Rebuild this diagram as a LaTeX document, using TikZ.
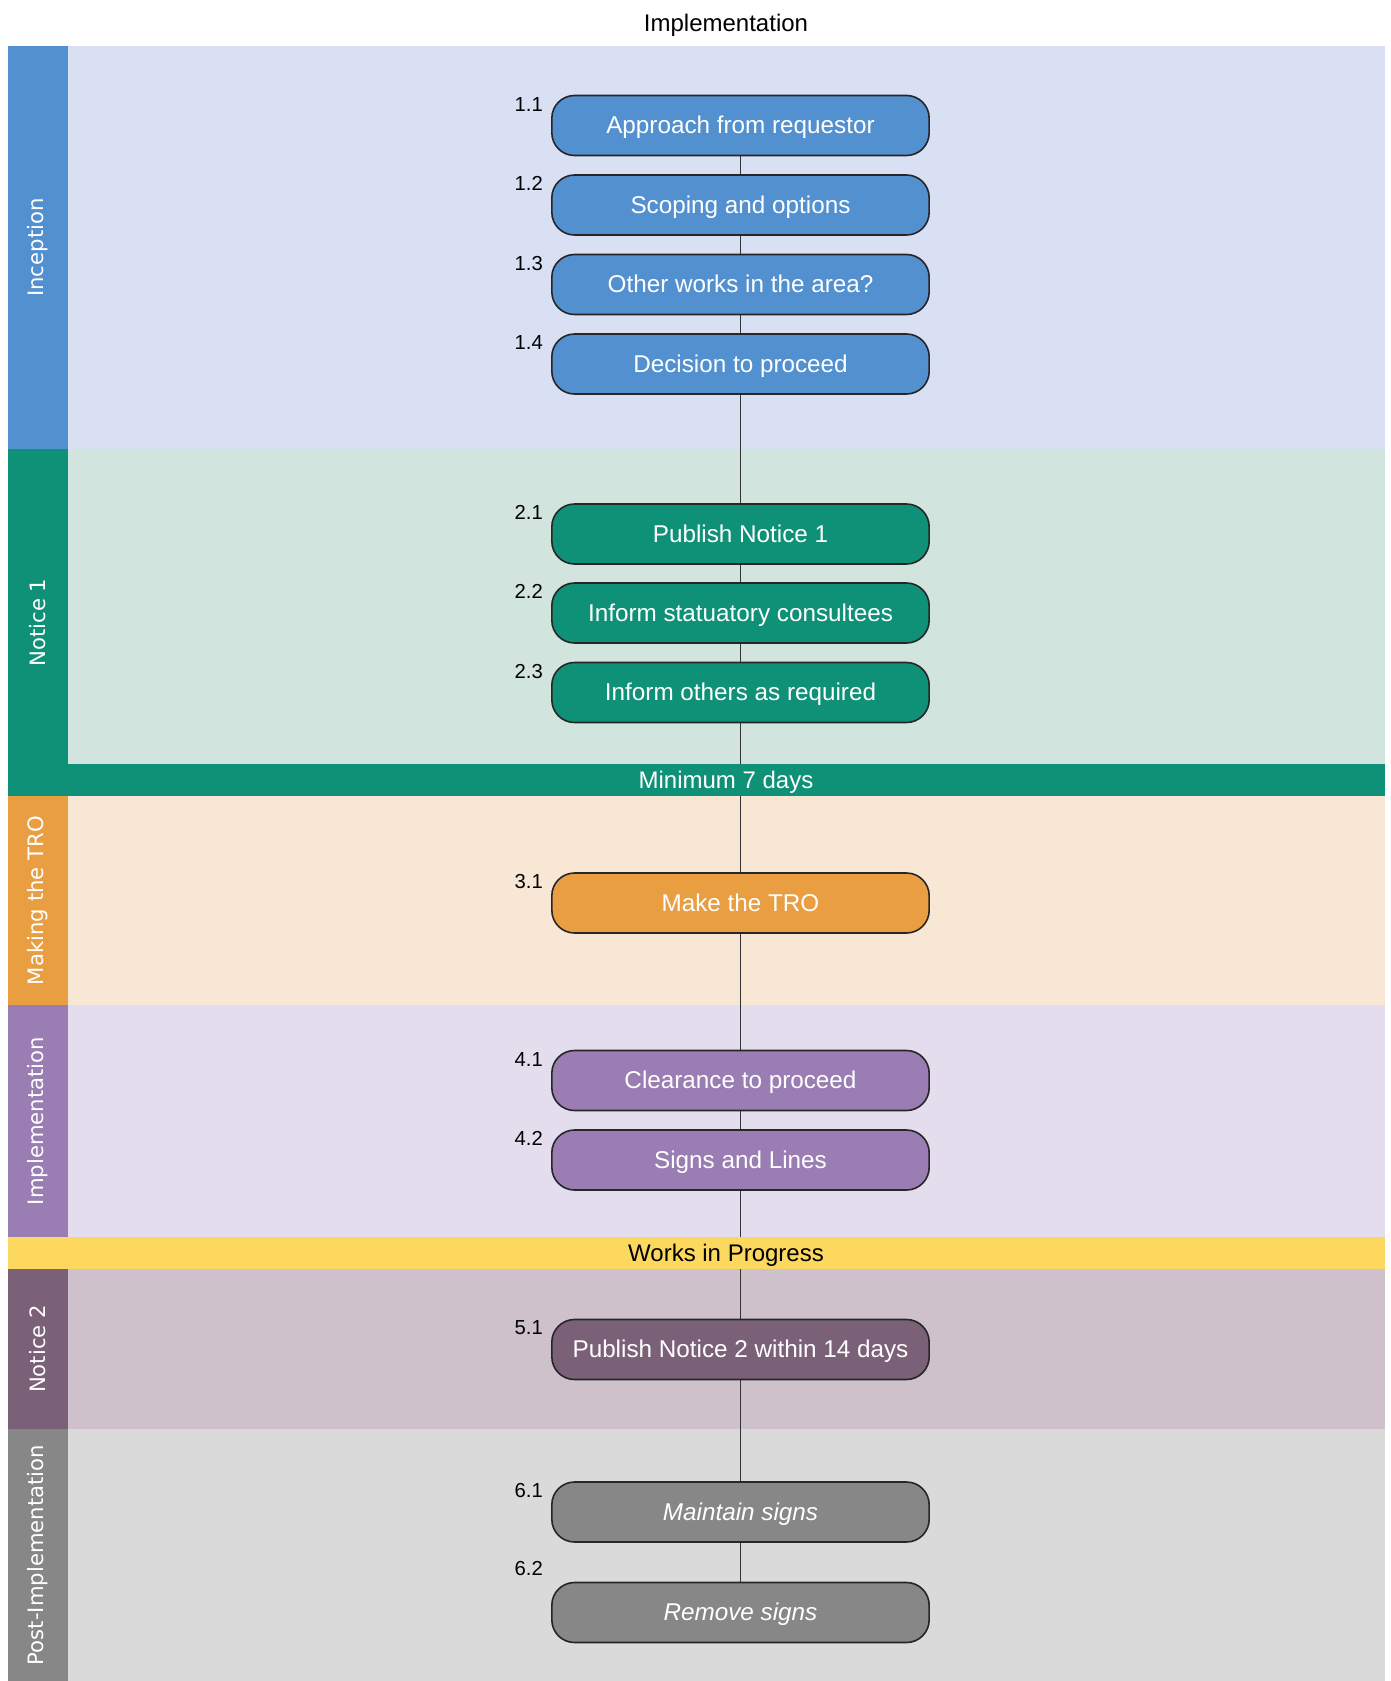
\documentclass[tikz,border=0pt]{standalone}
\usepackage{fontspec}
\setmainfont{Liberation Sans}
\newfontfamily\lanefont{DejaVu Sans}
\definecolor{incS}{RGB}{83,144,207}
\definecolor{incL}{RGB}{218,224,243}
\definecolor{noS}{RGB}{15,145,120}
\definecolor{noL}{RGB}{210,228,222}
\definecolor{trS}{RGB}{234,158,66}
\definecolor{trL}{RGB}{249,231,213}
\definecolor{imS}{RGB}{154,125,178}
\definecolor{imL}{RGB}{227,221,238}
\definecolor{wip}{RGB}{253,216,94}
\definecolor{nbS}{RGB}{123,97,120}
\definecolor{nbL}{RGB}{206,193,204}
\definecolor{poS}{RGB}{135,135,135}
\definecolor{poL}{RGB}{218,218,218}
\tikzset{
  stepbox/.style={draw=black!85, line width=1.2pt, rounded corners=17pt,
    minimum width=283pt, minimum height=45pt, inner sep=0pt, text=white,
    text height=14pt, text depth=2pt,
    font=\fontsize{18.2}{22}\selectfont},
  numlabel/.style={anchor=east, inner sep=0pt, font=\fontsize{15.2}{18}\selectfont},
  lanelabel/.style={rotate=90, text=white, font=\lanefont\fontsize{15.9}{18}\selectfont},
  barlabel/.style={inner sep=0pt, text height=14pt, text depth=2pt, font=\fontsize{18}{21}\selectfont},
  link/.style={draw=black!80, line width=1.1pt}
}
\begin{document}
\begin{tikzpicture}[x=0.75pt,y=-0.75pt]
\useasboundingbox (0,0) rectangle (1390,1681);
% lanes
\fill[incL] (67.5,46) rectangle (1385,449);
\fill[incS] (7.5,46) rectangle (67.5,449);
\fill[noL] (67.5,449) rectangle (1385,764);
\fill[noS] (7.5,449) rectangle (67.5,764);
\fill[trL] (67.5,796) rectangle (1385,1005);
\fill[trS] (7.5,796) rectangle (67.5,1005);
\fill[imL] (67.5,1005) rectangle (1385,1237);
\fill[imS] (7.5,1005) rectangle (67.5,1237);
\fill[nbL] (67.5,1269) rectangle (1385,1429);
\fill[nbS] (7.5,1269) rectangle (67.5,1429);
\fill[poL] (67.5,1429) rectangle (1385,1681);
\fill[poS] (7.5,1429) rectangle (67.5,1681);
% lane labels
\node[lanelabel] (lInc) at (37.5,247.5) {Inception};
\node[lanelabel] (lNo) at (37.5,622.5) {Notice 1};
\node[lanelabel] (lTr) at (37.5,900.5) {Making the TRO};
\node[lanelabel] (lIm) at (37.5,1121) {Implementation};
\node[lanelabel] (lNb) at (37.5,1349) {Notice 2};
\node[lanelabel] (lPo) at (37.5,1555) {Post-Implementation};
% title
\node[barlabel] (title) at (726,23.5) {Implementation};
% boxes
\node[stepbox, fill=incS] (b11) at (740.5,125.5) {Approach from requestor};
\node[stepbox, fill=incS] (b12) at (740.5,205) {Scoping and options};
\node[stepbox, fill=incS] (b13) at (740.5,284.5) {Other works in the area?};
\node[stepbox, fill=incS] (b14) at (740.5,364) {Decision to proceed};
\node[stepbox, fill=noS] (b21) at (740.5,534) {Publish Notice 1};
\node[stepbox, fill=noS] (b22) at (740.5,613) {Inform statuatory consultees};
\node[stepbox, fill=noS] (b23) at (740.5,692.5) {Inform others as required};
\node[stepbox, fill=trS] (b31) at (740.5,903) {Make the TRO};
\node[stepbox, fill=imS] (b41) at (740.5,1080.5) {Clearance to proceed};
\node[stepbox, fill=imS] (b42) at (740.5,1160) {Signs and Lines};
\node[stepbox, fill=nbS] (b51) at (740.5,1349.5) {Publish Notice 2 within 14 days};
\node[stepbox, fill=poS] (b61) at (740.5,1512) {\itshape Maintain signs};
\node[stepbox, fill=poS] (b62) at (740.5,1612.5) {\itshape Remove signs};
% number labels
\foreach \b/\t in {b11/1.1,b12/1.2,b13/1.3,b14/1.4,b21/2.1,b22/2.2,b23/2.3,b31/3.1,b41/4.1,b42/4.2,b51/5.1,b61/6.1}
  \node[numlabel] (n\b) at ([xshift=-6pt,yshift=-7pt]\b.north west) {\t};
\node[numlabel] (nb62) at ([xshift=-6pt,yshift=10pt]b62.north west) {6.2};
% connectors
\foreach \a/\c in {b11/b12,b12/b13,b13/b14,b14/b21,b21/b22,b22/b23,b23/b31,b31/b41,b41/b42,b42/b51,b51/b61,b61/b62}
  \draw[link] (\a.south) -- (\c.north);
% bars on top
\fill[noS] (7.5,764) rectangle (1385,796);
\node[barlabel, text=white] (bar1) at (726,780) {Minimum 7 days};
\fill[wip] (7.5,1237) rectangle (1385,1269);
\node[barlabel] (bar2) at (726,1253) {Works in Progress};
\end{tikzpicture}
\end{document}
